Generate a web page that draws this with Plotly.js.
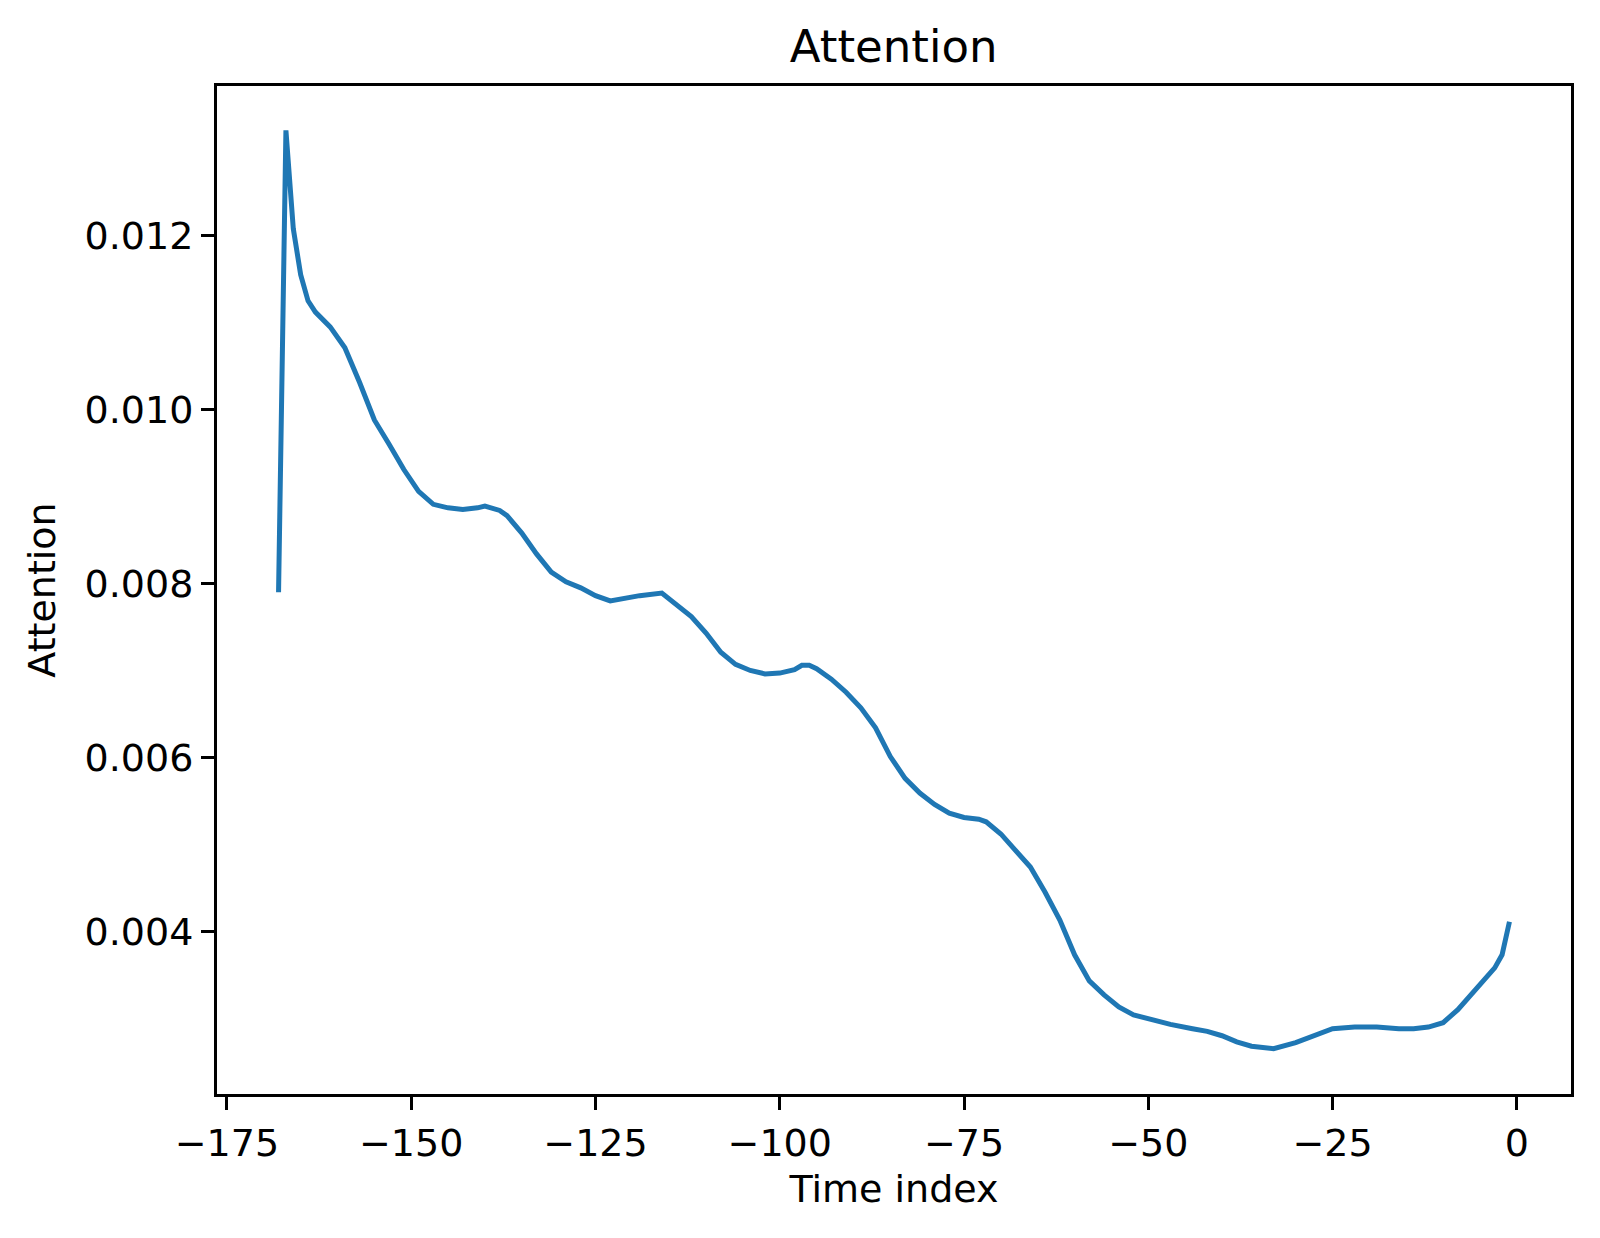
<!DOCTYPE html>
<html>
<head>
<meta charset="utf-8">
<script src="https://cdn.plot.ly/plotly-3.0.1.min.js"></script>
<style>
  html, body { margin: 0; padding: 0; background: #ffffff; }
  #chart { width: 1600px; height: 1238px; }
</style>
</head>
<body>
<div id="chart"></div>
<script>
// Time index (x) and attention weight (y)
const timeIndex = [
  -168, -167, -166, -165, -164, -163, -161, -159, -157, -155, -153, -151,
  -149, -147, -145, -143, -141, -140, -138, -137, -135, -133, -131, -129,
  -127, -125, -123, -121, -119, -116, -114, -112, -110, -108, -106, -104,
  -102, -100, -98, -97, -96, -95, -93, -91, -89, -87, -85, -83,
  -81, -79, -77, -75, -73, -72, -70, -68, -66, -64, -62, -60,
  -58, -56, -54, -52, -50, -47, -44, -42, -40, -38, -36, -33,
  -30, -27, -25, -22, -19, -16, -14, -12, -10, -8, -6, -4,
  -3, -2, -1
];
const attention = [
  0.00790, 0.01321, 0.01208, 0.01155, 0.01125, 0.01112, 0.01095, 0.01071, 0.01031, 0.00988, 0.00960, 0.00931,
  0.00906, 0.00891, 0.00887, 0.00885, 0.00887, 0.00889, 0.00884, 0.00878, 0.00858, 0.00834, 0.00813, 0.00802,
  0.00795, 0.00786, 0.00780, 0.00783, 0.00786, 0.00789, 0.00775, 0.00762, 0.00743, 0.00721, 0.00707, 0.00700,
  0.00696, 0.00697, 0.00701, 0.00706, 0.00706, 0.00702, 0.00690, 0.00675, 0.00657, 0.00634, 0.00601, 0.00576,
  0.00559, 0.00546, 0.00536, 0.00531, 0.00529, 0.00526, 0.00512, 0.00494, 0.00474, 0.00445, 0.00413, 0.00373,
  0.00343, 0.00327, 0.00313, 0.00304, 0.00299, 0.00293, 0.00288, 0.00285, 0.00280, 0.00273, 0.00268, 0.00265,
  0.00272, 0.00282, 0.00288, 0.00290, 0.00290, 0.00288, 0.00288, 0.00290, 0.00295, 0.00310, 0.00330, 0.00348,
  0.00358, 0.00373, 0.00411
];
const xTickValues = [-175, -150, -125, -100, -75, -50, -25, 0];
const yTickValues = [0.004, 0.006, 0.008, 0.010, 0.012];
const chartTitle = "Attention";
const xLabel = "Time index";
const yLabel = "Attention";

const fontFamily = "'DejaVu Sans', 'Liberation Sans', sans-serif";

const trace = {
  x: timeIndex,
  y: attention,
  type: "scatter",
  mode: "lines",
  line: { color: "#1f77b4", width: 5 },
  hoverinfo: "skip"
};

const axisCommon = {
  showgrid: false,
  zeroline: false,
  showline: true,
  mirror: true,
  linecolor: "#000000",
  linewidth: 3,
  ticks: "outside",
  ticklen: 13,
  tickwidth: 3,
  tickcolor: "#000000",
  tickfont: { family: fontFamily, size: 38, color: "#000000" },
  automargin: false
};

const layout = {
  width: 1600,
  height: 1238,
  paper_bgcolor: "#ffffff",
  plot_bgcolor: "#ffffff",
  margin: { l: 217, r: 29, t: 86, b: 144, pad: 0 },
  showlegend: false,
  font: { family: fontFamily, color: "#000000" },
  title: {
    text: chartTitle,
    font: { family: fontFamily, size: 45, color: "#000000" },
    x: 0.5585, xref: "container", xanchor: "center",
    y: 1 - 46 / 1238, yref: "container", yanchor: "middle"
  },
  xaxis: Object.assign({}, axisCommon, {
    range: [-176.35, 7.35],
    tickmode: "array",
    tickvals: xTickValues,
    ticktext: xTickValues.map(v => v < 0 ? "\u2212" + Math.abs(v) : String(v)),
    title: { text: xLabel, font: { family: fontFamily, size: 38, color: "#000000" }, standoff: 12 }
  }),
  yaxis: Object.assign({}, axisCommon, {
    range: [0.00213, 0.01372],
    tickmode: "array",
    tickvals: yTickValues,
    ticktext: yTickValues.map(v => v.toFixed(3)),
    title: { text: yLabel, font: { family: fontFamily, size: 38, color: "#000000" }, standoff: 18 }
  })
};

Plotly.newPlot("chart", [trace], layout, { staticPlot: true, displayModeBar: false });
</script>
</body>
</html>
